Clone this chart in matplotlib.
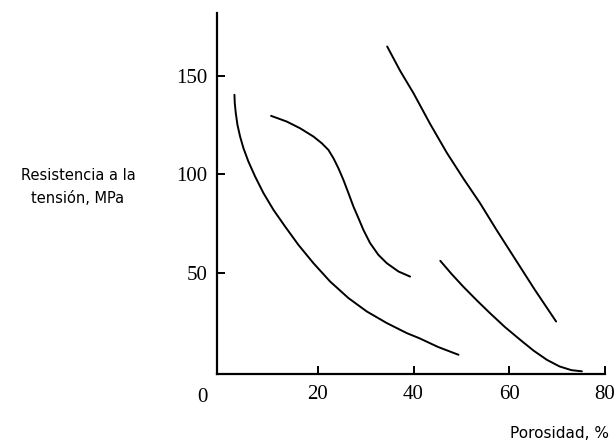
import matplotlib
matplotlib.use('Agg')
from matplotlib import pyplot as plt

# porosidad (%) vs resistencia a la tensión (MPa), four curves
x_a = [2.58, 2.65, 2.86, 3.21, 3.76, 4.46, 5.50, 6.90, 8.64, 10.73, 13.17, 15.95, 19.09, 22.57,
       26.40, 30.23, 34.42, 38.60, 41.23, 45.1, 49.4]
y_a = [140.4, 136.1, 131.1, 125.1, 119.2, 113.3, 106.5, 98.9, 90.5, 82.0, 73.5, 64.2, 54.9, 45.6,
       37.2, 30.4, 24.5, 19.4, 16.8, 12.4, 8.4]

x_b = [10.24, 13.52, 16.30, 19.09, 20.83, 22.22, 23.27, 24.31, 25.35, 26.40, 27.44, 28.49, 29.53,
       30.93, 32.67, 34.42, 36.85, 39.29]
y_b = [129.7, 126.8, 123.4, 119.2, 115.8, 112.4, 108.2, 103.1, 97.2, 90.5, 83.7, 77.8, 71.8,
       65.1, 59.1, 54.9, 50.7, 48.1]

x_c = [34.5, 37.2, 40.0, 43.5, 47.0, 50.5, 53.9, 57.4, 60.9, 65.3, 69.8]
y_c = [164.9, 152.6, 141.2, 125.5, 110.8, 97.6, 85.4, 71.6, 58.3, 41.6, 25.3]

x_d = [45.6, 48.0, 50.4, 53.2, 56.0, 59.1, 62.3, 65.1, 67.9, 70.5, 73.0, 75.2]
y_d = [56.1, 49.3, 43.0, 36.1, 29.5, 22.5, 16.0, 10.5, 5.8, 2.5, 0.6, 0.0]

x_ticks = [20, 40, 60, 80]
y_ticks = [50, 100, 150]

fig = plt.figure(figsize=(6.16, 4.43), dpi=100)
ax = fig.add_axes([0.352, 0.156, 0.630, 0.815])

for xs, ys in [(x_a, y_a), (x_b, y_b), (x_c, y_c), (x_d, y_d)]:
    ax.plot(xs, ys, color='black', linewidth=1.4, solid_capstyle='round',
            solid_joinstyle='round')

ax.set_xlim(-1.1, 80)
ax.set_ylim(-1.3, 182)
ax.spines['top'].set_visible(False)
ax.spines['right'].set_visible(False)
ax.spines['left'].set_linewidth(1.6)
ax.spines['bottom'].set_linewidth(1.6)

ax.set_xticks(x_ticks)
ax.set_yticks(y_ticks)
ax.tick_params(direction='in', length=6, width=1.4, colors='black')
ax.tick_params(axis='x', pad=8)
ax.tick_params(axis='y', pad=7)
for lbl in ax.get_xticklabels() + ax.get_yticklabels():
    lbl.set_fontfamily('Liberation Serif')
    lbl.set_fontsize(15)

# origin label at the corner
fig.text(202 / 616, 1 - 397 / 443, '0', family='Liberation Serif', fontsize=15,
         ha='center', va='center')

fig.text(78 / 616, 1 - 187 / 443, 'Resistencia a la\ntensión, MPa', family='DejaVu Sans',
         fontsize=10.5, ha='center', va='center', linespacing=1.6)
fig.text(560 / 616, 1 - 433 / 443, 'Porosidad, %', family='DejaVu Sans',
         fontsize=11, ha='center', va='center')

plt.savefig('out.png', dpi=100)
